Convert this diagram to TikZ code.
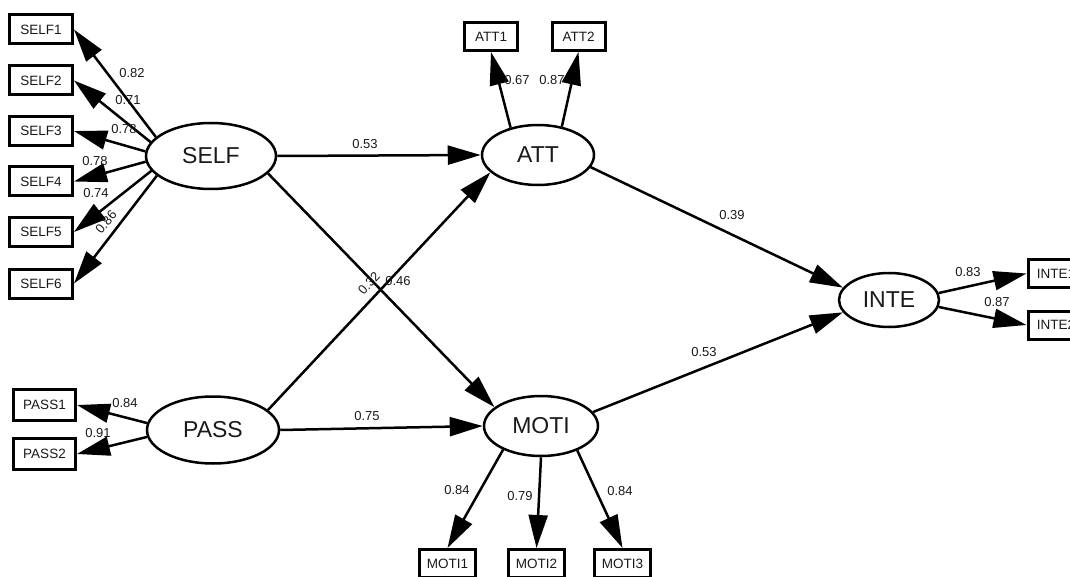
\documentclass[tikz,border=0pt]{standalone}
\usepackage{fontspec}
\setmainfont{Liberation Sans}
\usetikzlibrary{shapes.geometric,arrows.meta}
\definecolor{ink}{HTML}{1A1A1A}
\tikzset{
  ind/.style={draw=black, line width=3pt, rectangle, inner sep=0pt, text=ink,
    font=\fontsize{13.5}{15}\selectfont},
  selfbox/.style={ind, minimum width=63pt, minimum height=29pt},
  attbox/.style={ind, minimum width=53pt, minimum height=28pt},
  passbox/.style={ind, minimum width=62pt, minimum height=31pt},
  motibox/.style={ind, minimum width=56pt, minimum height=28pt},
  intebox/.style={ind, minimum width=56pt, minimum height=28pt},
  lat/.style={draw=black, line width=2.5pt, ellipse, inner sep=0pt, text=ink,
    font=\fontsize{23}{25}\selectfont},
  con/.style={line width=2.5pt, -{Triangle[length=33pt, width=19pt]}},
  coef/.style={inner sep=0pt, text=ink, font=\fontsize{13}{15}\selectfont},
}
\begin{document}
\begin{tikzpicture}[x=1pt, y=-1pt]
\useasboundingbox (0,0) rectangle (1070,577);
\clip (0,0) rectangle (1070,577);
\fill[white] (0,0) rectangle (1070,577);

% latent variables
\node[lat, minimum width=130pt, minimum height=66pt] (SELF) at (211,156) {SELF};
\node[lat, minimum width=112pt, minimum height=60pt] (ATT) at (538,155) {ATT};
\node[lat, minimum width=132pt, minimum height=67pt] (PASS) at (213,430) {PASS};
\node[lat, minimum width=114pt, minimum height=60pt] (MOTI) at (541,426) {MOTI};
\node[lat, minimum width=100pt, minimum height=54pt] (INTE) at (889,300) {INTE};

% indicators
\node[selfbox] (SELF1) at (41,29.5) {SELF1};
\node[selfbox] (SELF2) at (41,80.5) {SELF2};
\node[selfbox] (SELF3) at (41,131) {SELF3};
\node[selfbox] (SELF4) at (41,181.5) {SELF4};
\node[selfbox] (SELF5) at (41,232) {SELF5};
\node[selfbox] (SELF6) at (41,283.5) {SELF6};
\node[attbox] (ATT1) at (491,36.5) {ATT1};
\node[attbox] (ATT2) at (578.5,36.5) {ATT2};
\node[passbox] (PASS1) at (44.5,405) {PASS1};
\node[passbox] (PASS2) at (44.5,454) {PASS2};
\node[motibox] (MOTI1) at (447.5,563.5) {MOTI1};
\node[motibox] (MOTI2) at (536.5,563.5) {MOTI2};
\node[motibox] (MOTI3) at (622.5,563.5) {MOTI3};
\node[intebox] (INTE1) at (1056,273.5) {INTE1};
\node[intebox] (INTE2) at (1056,325) {INTE2};

% measurement arrows
\draw[con] (SELF.161) -- (SELF1.east);
\draw[con] (SELF.167) -- (SELF2.east);
\draw[con] (SELF.176) -- (SELF3.east);
\draw[con] (SELF.185) -- (SELF4.east);
\draw[con] (SELF.194) -- (SELF5.east);
\draw[con] (SELF.200) -- (SELF6.east);
\draw[con] (ATT.135) -- (ATT1.south);
\draw[con] (ATT.50) -- (ATT2.south);
\draw[con] (PASS.174) -- (PASS1.east);
\draw[con] (PASS.186) -- (PASS2.east);
\draw[con] (MOTI.212) -- (MOTI1.north);
\draw[con] (MOTI.270) -- (MOTI2.north);
\draw[con] (MOTI.326) -- (MOTI3.north);
\draw[con] (INTE.8) -- (INTE1.west);
\draw[con] (INTE.-8) -- (INTE2.west);

% structural arrows
\draw[con] (SELF.east) -- (ATT.west);
\draw[con] (SELF.-17) -- (MOTI.158);
\draw[con] (PASS.20) -- (ATT.200);
\draw[con] (PASS.east) -- (MOTI.west);
\draw[con] (ATT.-13) -- (INTE.165);
\draw[con] (MOTI.15) -- (INTE.195);

% coefficients
\node[coef] (c1) at (132,73) {0.82};
\node[coef] (c2) at (128,100) {0.71};
\node[coef] (c3) at (124,129) {0.78};
\node[coef] (c4) at (95,161) {0.78};
\node[coef] (c5) at (96,193) {0.74};
\node[coef, rotate=50] (c6) at (106,222) {0.86};
\node[coef] (c7) at (125,403) {0.84};
\node[coef] (c8) at (98,433) {0.91};
\node[coef] (c9) at (517,80) {0.67};
\node[coef] (c10) at (552,80) {0.87};
\node[coef] (c11) at (457,490) {0.84};
\node[coef] (c12) at (520,496) {0.79};
\node[coef] (c13) at (620,491) {0.84};
\node[coef] (c14) at (968,272) {0.83};
\node[coef] (c15) at (997,302) {0.87};
\node[coef] (c16) at (365,144) {0.53};
\node[coef] (c17) at (398,281) {0.46};
\node[coef, rotate=47] (c18) at (369,283) {0.32};
\node[coef] (c19) at (732,215) {0.39};
\node[coef] (c20) at (704,352) {0.53};
\node[coef] (c21) at (367,416) {0.75};
\end{tikzpicture}
\end{document}
